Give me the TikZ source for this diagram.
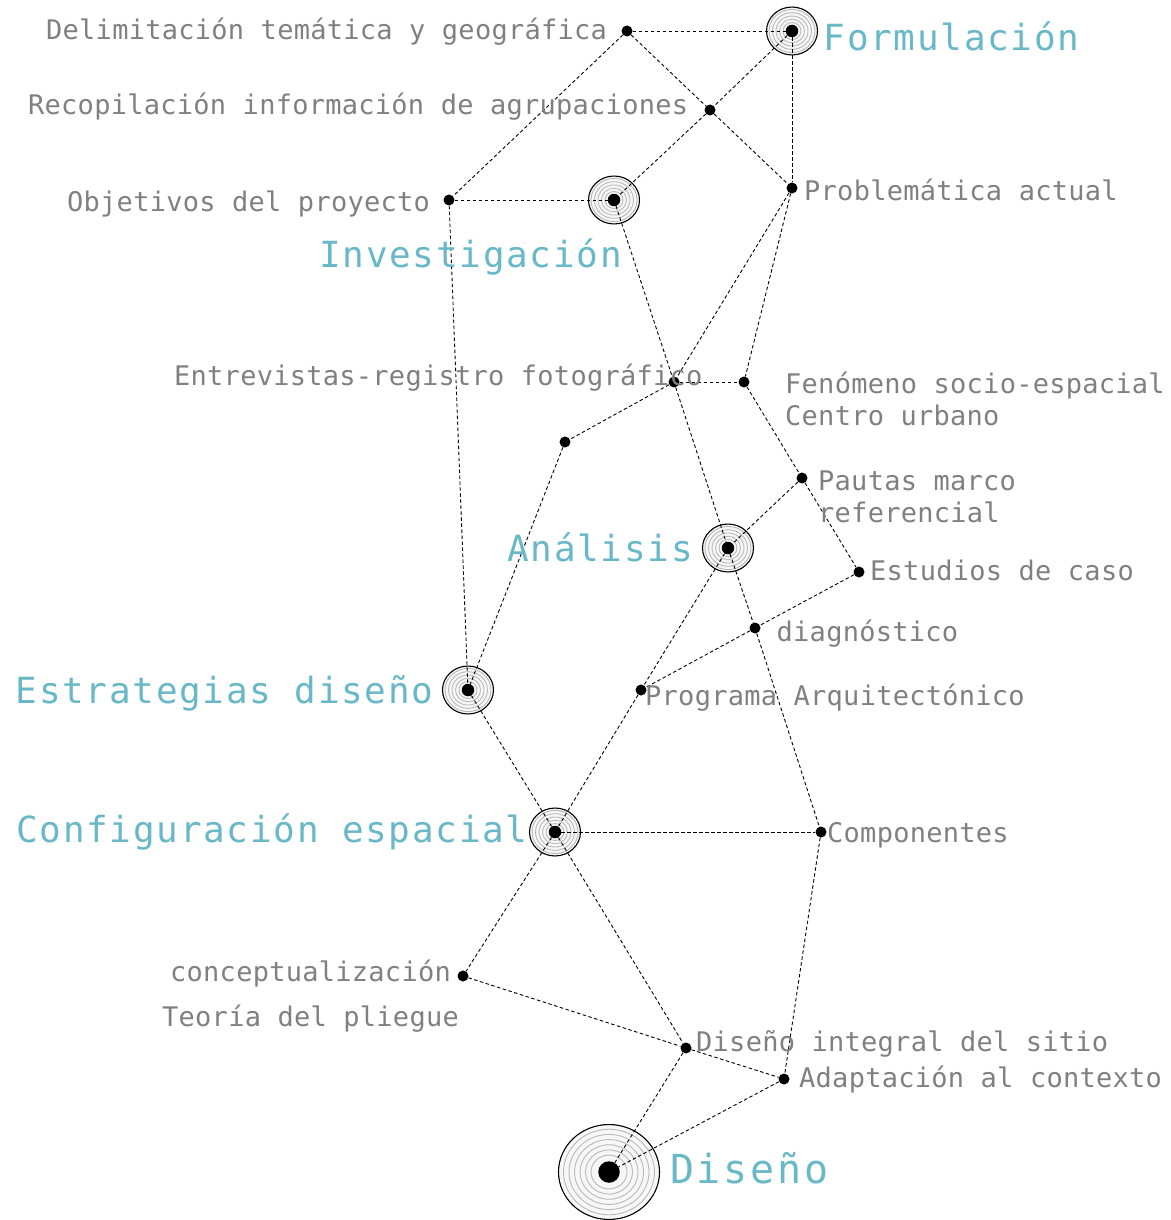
\documentclass[tikz,border=0pt]{standalone}
\usepackage{fontspec}
\usepackage{tikz}
\newfontfamily\labelfont[LetterSpace=1.0]{DejaVu Sans Mono}
\newfontfamily\stagefont[LetterSpace=4.8]{DejaVu Sans Mono}
\newfontfamily\finalfont[LetterSpace=6.8]{DejaVu Sans Mono}
\definecolor{txtgray}{RGB}{128,128,128}
\definecolor{stageteal}{RGB}{104,184,199}
\definecolor{ringgray}{RGB}{185,185,185}
\definecolor{ringfill}{RGB}{247,247,247}
\tikzset{
  dot/.style={circle,fill=black,inner sep=0pt,minimum size=11pt},
  hubdot/.style={circle,fill=black,inner sep=0pt,minimum size=12.5pt},
  lbl/.style={text=txtgray,inner sep=0pt,font=\labelfont\fontsize{27}{32}\selectfont},
  stage/.style={text=stageteal,inner sep=0pt,font=\stagefont\fontsize{36}{42}\selectfont},
  link/.style={dash pattern=on 3.5pt off 2.5pt,line width=0.9pt},
  ring/.style={draw=ringgray,line width=0.9pt}
}
% concentric target at a point: #1 point, #2 outer radius, #3 list of ring radii
\newcommand{\target}[3]{%
  \fill[ringfill] #1 ellipse[x radius=#2pt, y radius={0.94*#2pt}];
  \foreach \r in {#3}
    \draw[ring] #1 ellipse[x radius=\r pt, y radius={0.94*\r pt}];
  \draw[line width=1.1pt] #1 ellipse[x radius=#2pt, y radius={0.94*#2pt}];
}
\begin{document}
\begin{tikzpicture}[x=1pt,y=-1pt]
\useasboundingbox (0,0) rectangle (1170,1220);
% targets
\target{(792,31)}{25.5}{9,12.5,16,19.5,23}
\target{(614,200)}{25.5}{9,12.5,16,19.5,23}
\target{(728,548)}{25.5}{9,12.5,16,19.5,23}
\target{(468,690)}{25.5}{9,12.5,16,19.5,23}
\target{(555,832)}{25.5}{9,12.5,16,19.5,23}
\target{(609,1172)}{50.5}{18,23.5,29,34.5,40,45.5}
%
\node[hubdot] (formu) at (792,31) {};
\node[hubdot] (inves) at (614,200) {};
\node[hubdot] (anali) at (728,548) {};
\node[hubdot] (estra) at (468,690) {};
\node[hubdot] (confi) at (555,832) {};
\node[hubdot,minimum size=21.5pt] (disen) at (609,1172) {};
%
\node[dot] (delim) at (627,31) {};
\node[dot] (recop) at (710,110) {};
\node[dot] (objet) at (449,200) {};
\node[dot] (probl) at (792,188) {};
\node[dot] (entrev) at (674,382) {};
\node[dot] (fenom) at (744,382) {};
\node[dot] (cruce) at (565,442) {};
\node[dot] (pautas) at (802,478) {};
\node[dot] (estud) at (859,572) {};
\node[dot] (diagn) at (755,628) {};
\node[dot] (progr) at (641,690) {};
\node[dot] (compo) at (821,832) {};
\node[dot] (concep) at (463,976) {};
\node[dot] (integ) at (686,1048) {};
\node[dot] (adapt) at (784,1079) {};
% links
\foreach \a/\b in {delim/formu, delim/objet, delim/recop, recop/probl,
  formu/recop, recop/inves, formu/probl, objet/inves, objet/estra,
  inves/entrev, entrev/anali, probl/entrev, probl/fenom, entrev/fenom,
  entrev/cruce, cruce/estra, fenom/pautas, pautas/anali, pautas/estud,
  estud/diagn, diagn/progr, anali/diagn, diagn/compo, anali/progr,
  progr/confi, estra/confi, confi/compo, confi/concep, confi/integ,
  concep/integ, integ/adapt, compo/adapt, integ/disen, adapt/disen}
  \draw[link] (\a) -- (\b);
% stage names
\node[stage,anchor=base west] (tFormu) at (823.5,51) {Formulación};
\node[stage,anchor=base west] (tInves) at (319,267) {Investigación};
\node[stage,anchor=base west] (tAnali) at (507,561) {Análisis};
\node[stage,anchor=base west] (tEstra) at (15.5,703) {Estrategias diseño};
\node[stage,anchor=base west] (tConfi) at (16,842) {Configuración espacial};
\node[stage,anchor=base west,font=\finalfont\fontsize{40}{46}\selectfont] (tDisen) at (670,1183) {Diseño};
% labels
\node[lbl,anchor=base west] (lDelim) at (46,40) {Delimitación temática y geográfica};
\node[lbl,anchor=base west] (lRecop) at (28,115) {Recopilación información de agrupaciones};
\node[lbl,anchor=base west] (lObjet) at (67,211) {Objetivos del proyecto};
\node[lbl,anchor=base west] (lProbl) at (804,200) {Problemática actual};
\node[lbl,anchor=base west] (lEntrev) at (174,385) {Entrevistas-registro fotográfico};
\node[lbl,anchor=base west] (lFenom) at (785,393) {Fenómeno socio-espacial};
\node[lbl,anchor=base west] (lCentro) at (785,425) {Centro urbano};
\node[lbl,anchor=base west] (lPautas) at (818,490) {Pautas marco};
\node[lbl,anchor=base west] (lRefer) at (818,522) {referencial};
\node[lbl,anchor=base west] (lEstud) at (870,580) {Estudios de caso};
\node[lbl,anchor=base west] (lDiagn) at (776.5,641) {diagnóstico};
\node[lbl,anchor=base west] (lProgr) at (645,705) {Programa Arquitectónico};
\node[lbl,anchor=base west] (lCompo) at (827,842) {Componentes};
\node[lbl,anchor=base west] (lConcep) at (170,981) {conceptualización};
\node[lbl,anchor=base west] (lTeoria) at (162,1026) {Teoría del pliegue};
\node[lbl,anchor=base west] (lInteg) at (696,1051) {Diseño integral del sitio};
\node[lbl,anchor=base west] (lAdapt) at (799,1087) {Adaptación al contexto};
\end{tikzpicture}
\end{document}
